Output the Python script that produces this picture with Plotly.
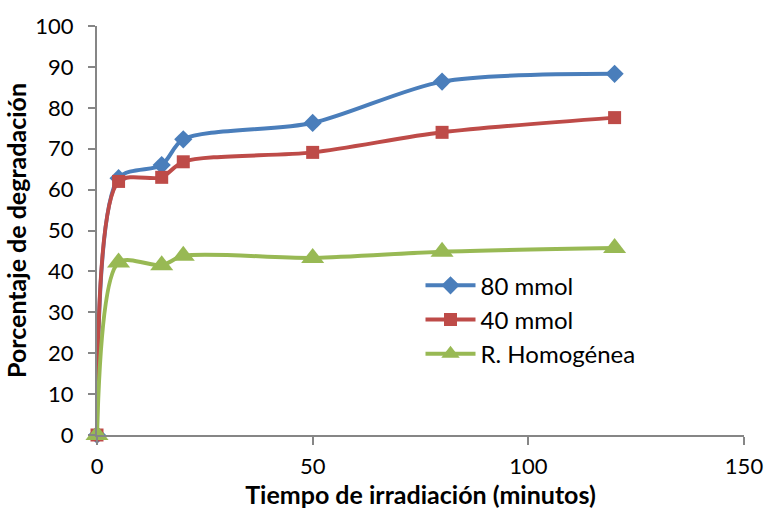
import plotly.graph_objects as go

tiempo = [0, 5, 15, 20, 50, 80, 120]
serie_80 = [0, 62.8, 66.0, 72.3, 76.3, 86.4, 88.3]
serie_40 = [0, 62.0, 63.0, 66.8, 69.1, 74.0, 77.6]
serie_hom = [0, 42.2, 41.5, 43.8, 43.3, 44.8, 45.7]
nombres = ["80 mmol", "40 mmol", "R. Homogénea"]
colores = ["#4A7EBB", "#BE4B48", "#98B954"]
simbolos = ["diamond", "square", "triangle-up"]
tamanos = [14, 13, 20]

font_fam = "Lato, Open Sans, sans-serif"

fig = go.Figure()
for ys, n, c, s, sz in zip([serie_80, serie_40, serie_hom], nombres, colores, simbolos, tamanos):
    fig.add_trace(go.Scatter(
        x=tiempo, y=ys, name=n, mode="lines+markers", cliponaxis=False,
        line=dict(color=c, width=4, shape="spline", smoothing=0.8),
        marker=dict(symbol=s, size=sz, color=c),
    ))

fig.update_layout(
    width=775, height=509,
    margin=dict(l=97, r=22, t=16, b=71),
    paper_bgcolor="white", plot_bgcolor="white",
    font=dict(family=font_fam, size=22, color="black"),
    showlegend=True,
    legend=dict(x=0.5, y=0.42, xanchor="left", yanchor="top",
                font=dict(size=24, family=font_fam), bgcolor="rgba(0,0,0,0)",
                tracegroupgap=0, itemwidth=50),
    xaxis=dict(
        range=[0, 150], tickvals=[0, 50, 100, 150],
        showline=True, linecolor="#868686", linewidth=2,
        ticks="outside", ticklen=8, tickcolor="#868686", tickwidth=2,
        showgrid=False, zeroline=False,
        ticklabelstandoff=3,
        title=dict(text="<b>Tiempo de irradiación (minutos)</b>", font=dict(size=25), standoff=0),
    ),
    yaxis=dict(
        range=[0, 100], tickvals=list(range(0, 101, 10)),
        showline=True, linecolor="#868686", linewidth=2,
        ticks="outside", ticklen=7, tickcolor="#868686", tickwidth=2,
        showgrid=False, zeroline=False,
        ticklabelstandoff=10,
        title=dict(text="<b>Porcentaje de degradación</b>", font=dict(size=25), standoff=2),
    ),
)

fig.write_html("out.html")
